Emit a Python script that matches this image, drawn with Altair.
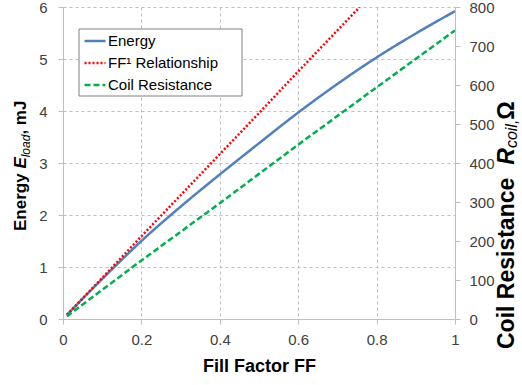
import altair as alt
import pandas as pd

# ---- data ----
ff_energy = [0.01, 0.05, 0.1, 0.15, 0.2, 0.3, 0.4, 0.5, 0.6, 0.7, 0.8, 0.9, 1.0]
energy_mj = [0.08, 0.39, 0.77, 1.14, 1.50, 2.16, 2.78, 3.38, 3.97, 4.52, 5.03, 5.49, 5.92]

ff_rel = [0.01, 0.1, 0.2, 0.3, 0.4, 0.5, 0.6, 0.7, 0.757]
rel_mj = [0.08, 0.79, 1.59, 2.38, 3.17, 3.96, 4.76, 5.55, 6.0]

ff_coil = [0.01, 0.2, 0.4, 0.6, 0.8, 1.0]
coil_ohm = [7, 150, 297, 447, 594, 740]

series_names = ["Energy", "FF¹ Relationship", "Coil Resistance"]
series_colors = ["#4F81BD", "#FF0000", "#00B050"]
series_dashes = [[1, 0], [2, 2], [6, 3]]

x_ticks = [0, 0.2, 0.4, 0.6, 0.8, 1]
left_ticks = [0, 1, 2, 3, 4, 5, 6]
right_ticks = [0, 100, 200, 300, 400, 500, 600, 700, 800]

x_title = "Fill Factor FF"
left_title_parts = ["Energy ", "E", "load", ", mJ"]
right_title_parts = ["Coil Resistance ", "R", "coil,", " Ω"]

FONT = "Liberation Sans"
AXIS_GRAY = "#BFBFBF"
LABEL_COLOR = "#404040"

left_df = pd.DataFrame({
    "ff": ff_energy + ff_rel,
    "val": energy_mj + rel_mj,
    "series": [series_names[0]] * len(ff_energy) + [series_names[1]] * len(ff_rel),
})
right_df = pd.DataFrame({
    "ff": ff_coil,
    "val": coil_ohm,
    "series": [series_names[2]] * len(ff_coil),
})

legend = alt.Legend(
    title=None, orient="none", legendX=16, legendY=20,
    symbolType="stroke", symbolSize=441, symbolStrokeWidth=2.5,
    labelFontSize=15, labelFont=FONT, labelColor="#000000",
    padding=2, rowPadding=2, symbolOffset=2, labelOffset=1,
)
color = alt.Color("series:N", scale=alt.Scale(domain=series_names, range=series_colors), legend=legend)
dash = alt.StrokeDash("series:N", scale=alt.Scale(domain=series_names, range=series_dashes), legend=legend)

x_enc = alt.X("ff:Q", scale=alt.Scale(domain=[0, 1], nice=False),
              axis=alt.Axis(values=x_ticks, format="~g", title=x_title,
                            titleFontSize=18, titleFontWeight="bold", titleColor="#000000",
                            titleFont=FONT, titlePadding=10,
                            labelFontSize=15, labelColor=LABEL_COLOR, labelFont=FONT,
                            labelPadding=8, labelFlush=False, labelOverlap=False,
                            tickSize=5, tickColor=AXIS_GRAY, domainColor=AXIS_GRAY,
                            grid=True, gridColor=AXIS_GRAY, gridDash=[3, 3], gridWidth=1))

left = alt.Chart(left_df).mark_line(strokeWidth=2.5, clip=True, interpolate="monotone").encode(
    x=x_enc,
    y=alt.Y("val:Q", scale=alt.Scale(domain=[0, 6], nice=False),
            axis=alt.Axis(values=left_ticks, format="d", title=None, orient="left",
                          labelFontSize=15, labelColor=LABEL_COLOR, labelFont=FONT,
                          labelPadding=11, tickSize=5, tickColor=AXIS_GRAY,
                          domainColor=AXIS_GRAY, grid=True, gridColor=AXIS_GRAY,
                          gridDash=[3, 3], gridWidth=1)),
    color=color, strokeDash=dash, order=alt.Order("ff:Q"),
)

right = alt.Chart(right_df).mark_line(strokeWidth=2.5, clip=True).encode(
    x=alt.X("ff:Q", scale=alt.Scale(domain=[0, 1], nice=False)),
    y=alt.Y("val:Q", scale=alt.Scale(domain=[0, 800], nice=False),
            axis=alt.Axis(values=right_ticks, format="d", title=None, orient="right",
                          labelFontSize=15, labelColor=LABEL_COLOR, labelFont=FONT,
                          labelPadding=9, tickSize=5, tickColor=AXIS_GRAY,
                          domainColor=AXIS_GRAY, grid=False)),
    color=color, strokeDash=dash, order=alt.Order("ff:Q"),
)

# legend frame (box behind the legend entries)
legend_box = alt.Chart(pd.DataFrame({"k": [0]})).mark_rect(
    fill="white", stroke="#808080", strokeWidth=1
).encode(x=alt.value(16), x2=alt.value(179), y=alt.value(22), y2=alt.value(89))


def title_piece(text, x, y, size, weight, style):
    return alt.Chart(pd.DataFrame({"t": [text]})).mark_text(
        angle=270, align="left", baseline="alphabetic", font=FONT,
        fontSize=size, fontWeight=weight, fontStyle=style, color="#000000",
    ).encode(x=alt.value(x), y=alt.value(y), text="t:N")


# left title (reads bottom to top)
lt = [
    title_piece(left_title_parts[0], -37, 224, 17, "bold", "normal"),
    title_piece(left_title_parts[1], -37, 161.6, 17, "bold", "italic"),
    title_piece(left_title_parts[2], -33, 150.3, 12, "normal", "italic"),
    title_piece(left_title_parts[3], -37, 127.6, 17, "bold", "normal"),
]
# right title
rt = [
    title_piece(right_title_parts[0], 451, 342, 23, "bold", "normal"),
    title_piece(right_title_parts[1], 451, 157.7, 23, "bold", "italic"),
    title_piece(right_title_parts[2], 454, 141.1, 16, "normal", "italic"),
    title_piece(right_title_parts[3], 451, 112.7, 23, "bold", "normal"),
]

chart = alt.layer(left, right, legend_box, *lt, *rt).resolve_scale(
    y="independent"
).properties(
    width=392, height=312,
    padding={"left": 63, "top": 7, "right": 67, "bottom": 66},
    autosize=alt.AutoSizeParams(type="none"),
).configure(font=FONT).configure_view(stroke=None)

chart.save("out.html", embed_options={"renderer": "svg", "actions": False})
